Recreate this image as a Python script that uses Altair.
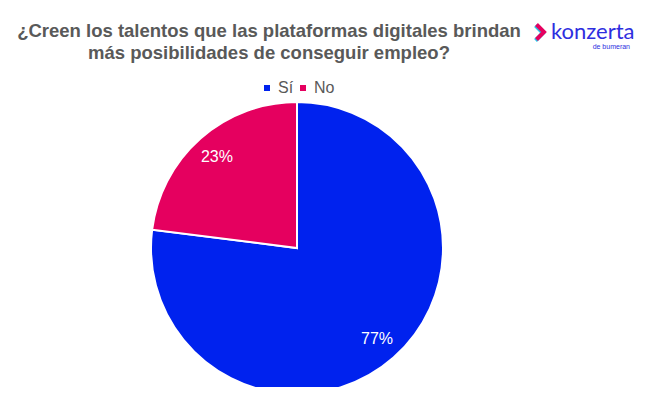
import altair as alt
import pandas as pd

categories = ["Sí", "No"]
values = [77, 23]
labels = ["77%", "23%"]
colors = ["#0022EE", "#E5005F"]
title_lines = ["¿Creen los talentos que las plataformas digitales brindan",
               "más posibilidades de conseguir empleo?"]

df = pd.DataFrame({"cat": categories, "val": values, "lab": labels,
                   "ord": list(range(len(categories)))})

CX, CY, R = 289, 240, 146
FONT = "Liberation Sans"
GRAY = "#595959"

base = alt.Chart(df).encode(
    theta=alt.Theta("val:Q", stack=True),
    order=alt.Order("ord:Q"),
    x=alt.value(CX), y=alt.value(CY),
)

arcs = base.mark_arc(outerRadius=R, stroke="white", strokeWidth=2).encode(
    color=alt.Color("cat:N", scale=alt.Scale(domain=categories, range=colors),
                    sort=categories,
                    legend=alt.Legend(title=None, orient="none", direction="horizontal",
                                      legendX=251, legendY=72, symbolType="square",
                                      symbolSize=36, labelFontSize=16, labelFont=FONT,
                                      labelColor=GRAY, columnPadding=1,
                                      symbolStrokeWidth=0, labelOffset=3))
)

texts = base.mark_text(radius=121, fontSize=16, font=FONT, color="white").encode(
    text="lab:N")

title1 = alt.Chart(pd.DataFrame({"t": [title_lines[0]]})).mark_text(
    fontSize=18.5, font=FONT, fontWeight="bold", color=GRAY, align="center",
    baseline="alphabetic").encode(text="t:N", x=alt.value(261), y=alt.value(29))
title2 = alt.Chart(pd.DataFrame({"t": [title_lines[1]]})).mark_text(
    fontSize=18.5, font=FONT, fontWeight="bold", color=GRAY, align="center",
    baseline="alphabetic").encode(text="t:N", x=alt.value(261), y=alt.value(51))

logo1 = alt.Chart(pd.DataFrame({"t": ["konzerta"]})).mark_text(
    fontSize=22, font="Lato", fontWeight="normal", color="#2E2EE0", align="left",
    baseline="alphabetic").encode(text="t:N", x=alt.value(543), y=alt.value(31))
logo2 = alt.Chart(pd.DataFrame({"t": ["de bumeran"]})).mark_text(
    fontSize=7, font=FONT, color="#2E2EE0", align="right",
    baseline="alphabetic").encode(text="t:N", x=alt.value(622), y=alt.value(41))
chev_shadow = alt.Chart(pd.DataFrame({"t": ["c"]})).mark_point(
    shape="M-0.6,-1 L0.4,0 L-0.6,1", filled=False, stroke="#27C4E8",
    strokeWidth=4, size=225, opacity=1).encode(
    x=alt.value(532), y=alt.value(25))
chev = alt.Chart(pd.DataFrame({"t": ["c"]})).mark_point(
    shape="M-0.6,-1 L0.4,0 L-0.6,1", filled=False, stroke="#E5005F",
    strokeWidth=4, size=225, opacity=1).encode(
    x=alt.value(533), y=alt.value(24))

chart = alt.layer(arcs, texts, title1, title2, logo1, logo2, chev_shadow, chev).properties(
    width=629, height=379,
    autosize=alt.AutoSizeParams(type="none"),
    padding=0,
).configure_view(stroke=None)

chart.save("out.html", embed_options={"renderer": "svg", "actions": False})
